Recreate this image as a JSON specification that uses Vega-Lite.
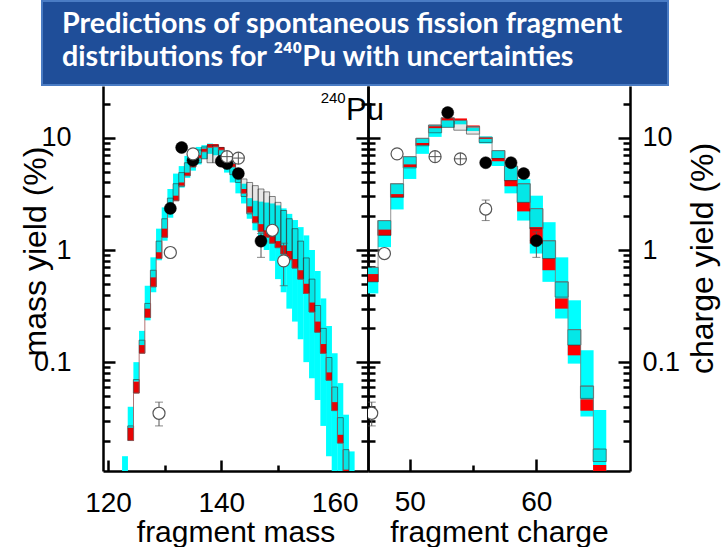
{
  "$schema": "https://vega.github.io/schema/vega-lite/v6.json",
  "background": "white",
  "padding": {"left": 19, "top": 0, "right": 5, "bottom": 0},
  "spacing": 0,
  "config": {
    "view": {"stroke": null},
    "font": "Liberation Sans",
    "axis": {"grid": false, "domainColor": "black", "domainWidth": 2.5, "tickColor": "black", "tickWidth": 2.5,
             "labelColor": "black", "titleColor": "black", "labelFont": "Liberation Sans", "titleFont": "Liberation Sans",
             "titleFontWeight": "normal", "labelFontSize": 27, "titleFontSize": 30, "labelFlush": false, "labelOverlap": false}
  },
  "datasets": {
    "left": [
      {"m":123,"clo":0.005,"chi":0.0145,"hlo":null,"hhi":null,"rlo":null,"rhi":null},
      {"m":124,"clo":0.0255,"chi":0.040,"hlo":0.020,"hhi":0.027,"rlo":0.020,"rhi":0.026},
      {"m":125,"clo":0.067,"chi":0.10,"hlo":0.053,"hhi":0.070,"rlo":0.053,"rhi":0.067},
      {"m":126,"clo":0.142,"chi":0.19,"hlo":0.12,"hhi":0.157,"rlo":0.12,"rhi":0.142},
      {"m":127,"clo":0.236,"chi":0.48,"hlo":0.25,"hhi":0.334,"rlo":0.25,"rhi":0.30},
      {"m":128,"clo":0.42,"chi":0.86,"hlo":0.47,"hhi":0.66,"rlo":0.47,"rhi":0.57},
      {"m":129,"clo":0.81,"chi":1.55,"hlo":0.84,"hhi":1.2,"rlo":0.84,"rhi":0.955},
      {"m":130,"clo":1.21,"chi":2.4,"hlo":1.3,"hhi":1.9,"rlo":1.3,"rhi":1.55},
      {"m":131,"clo":1.94,"chi":3.5,"hlo":2.15,"hhi":2.9,"rlo":2.15,"rhi":2.49},
      {"m":132,"clo":2.75,"chi":4.8,"hlo":2.75,"hhi":3.9,"rlo":2.75,"rhi":3.05},
      {"m":133,"clo":3.6,"chi":5.6,"hlo":3.7,"hhi":4.9,"rlo":3.74,"rhi":4.0},
      {"m":134,"clo":4.4,"chi":6.9,"hlo":4.6,"hhi":6.0,"rlo":4.6,"rhi":4.9},
      {"m":135,"clo":5.1,"chi":8.0,"hlo":5.5,"hhi":7.0,"rlo":5.5,"rhi":5.9},
      {"m":136,"clo":5.8,"chi":8.3,"hlo":6.0,"hhi":7.8,"rlo":6.6,"rhi":7.0},
      {"m":137,"clo":6.5,"chi":8.6,"hlo":6.5,"hhi":8.3,"rlo":7.5,"rhi":8.0},
      {"m":138,"clo":7.2,"chi":8.9,"hlo":6.0,"hhi":8.6,"rlo":8.2,"rhi":8.8},
      {"m":139,"clo":7.0,"chi":8.8,"hlo":6.0,"hhi":8.6,"rlo":8.3,"rhi":8.8},
      {"m":140,"clo":6.0,"chi":8.2,"hlo":5.8,"hhi":8.2,"rlo":7.8,"rhi":8.3},
      {"m":141,"clo":4.9,"chi":7.2,"hlo":5.3,"hhi":7.3,"rlo":6.8,"rhi":7.2},
      {"m":142,"clo":4.0,"chi":6.0,"hlo":4.7,"hhi":6.2,"rlo":5.5,"rhi":5.9},
      {"m":143,"clo":3.2,"chi":5.0,"hlo":4.0,"hhi":5.3,"rlo":4.4,"rhi":4.8},
      {"m":144,"clo":2.6,"chi":3.9,"hlo":3.0,"hhi":4.3,"rlo":3.2,"rhi":3.5},
      {"m":145,"clo":1.9,"chi":2.9,"hlo":2.1,"hhi":4.0,"rlo":2.15,"rhi":2.45},
      {"m":146,"clo":1.5,"chi":2.75,"hlo":1.75,"hhi":3.75,"rlo":1.75,"rhi":2.0},
      {"m":147,"clo":1.2,"chi":2.7,"hlo":1.45,"hhi":3.5,"rlo":1.45,"rhi":1.7},
      {"m":148,"clo":1.0,"chi":2.65,"hlo":1.3,"hhi":3.3,"rlo":1.3,"rhi":1.5},
      {"m":149,"clo":0.8,"chi":2.6,"hlo":1.15,"hhi":3.0,"rlo":1.15,"rhi":1.35},
      {"m":150,"clo":0.55,"chi":2.5,"hlo":1.05,"hhi":2.66,"rlo":1.05,"rhi":1.2},
      {"m":151,"clo":0.42,"chi":2.35,"hlo":0.92,"hhi":2.25,"rlo":0.92,"rhi":1.1},
      {"m":152,"clo":0.30,"chi":2.1,"hlo":0.82,"hhi":1.9,"rlo":0.82,"rhi":0.98},
      {"m":153,"clo":0.23,"chi":1.85,"hlo":0.69,"hhi":1.55,"rlo":0.69,"rhi":0.83},
      {"m":154,"clo":0.16,"chi":1.6,"hlo":0.55,"hhi":1.2,"rlo":0.55,"rhi":0.66},
      {"m":155,"clo":0.10,"chi":1.35,"hlo":0.41,"hhi":0.85,"rlo":0.41,"rhi":0.50},
      {"m":156,"clo":0.072,"chi":1.0,"hlo":0.28,"hhi":0.55,"rlo":0.28,"rhi":0.34},
      {"m":157,"clo":0.046,"chi":0.65,"hlo":0.185,"hhi":0.32,"rlo":0.185,"rhi":0.23},
      {"m":158,"clo":0.027,"chi":0.37,"hlo":0.12,"hhi":0.2,"rlo":0.12,"rhi":0.145},
      {"m":159,"clo":0.0145,"chi":0.21,"hlo":0.069,"hhi":0.11,"rlo":0.069,"rhi":0.081},
      {"m":160,"clo":0.007,"chi":0.12,"hlo":0.037,"hhi":0.06,"rlo":0.037,"rhi":0.044},
      {"m":161,"clo":0.005,"chi":0.065,"hlo":0.019,"hhi":0.032,"rlo":0.019,"rhi":0.0225},
      {"m":162,"clo":0.004,"chi":0.034,"hlo":0.008,"hhi":0.0166,"rlo":0.008,"rhi":0.011},
      {"m":163,"clo":0.003,"chi":0.016,"hlo":null,"hhi":null,"rlo":null,"rhi":null}
    ],
    "lpts": [
      {"m":131,"y":2.35,"kind":"filled"},
      {"m":133,"y":8.2,"kind":"filled"},
      {"m":135,"y":6.3,"kind":"filled"},
      {"m":140,"y":6.2,"kind":"filled"},
      {"m":141,"y":5.9,"kind":"filled"},
      {"m":143,"y":4.8,"kind":"filled"},
      {"m":147,"y":1.2,"kind":"filled"},
      {"m":129,"y":0.035,"kind":"open"},
      {"m":131,"y":0.95,"kind":"open"},
      {"m":135,"y":7.2,"kind":"open"},
      {"m":149,"y":1.5,"kind":"open"},
      {"m":151,"y":0.80,"kind":"open"},
      {"m":141,"y":6.8,"kind":"cross"},
      {"m":143,"y":6.6,"kind":"cross"}
    ],
    "lerr": [
      {"m":129,"lo":0.027,"hi":0.044},
      {"m":131,"lo":0.87,"hi":1.04},
      {"m":147,"lo":0.86,"hi":1.4},
      {"m":151,"lo":0.48,"hi":1.15}
    ],
    "right": [
      {"z":47,"clo":0.41,"chi":0.70,"hlo":0.52,"hhi":0.70,"rlo":0.52,"rhi":0.61},
      {"z":48,"clo":1.06,"chi":1.83,"hlo":1.35,"hhi":1.83,"rlo":1.35,"rhi":1.52},
      {"z":49,"clo":2.3,"chi":3.9,"hlo":2.95,"hhi":3.9,"rlo":2.95,"rhi":3.15},
      {"z":50,"clo":4.3,"chi":6.8,"hlo":5.4,"hhi":6.8,"rlo":5.5,"rhi":5.8},
      {"z":51,"clo":7.2,"chi":9.9,"hlo":8.5,"hhi":9.9,"rlo":8.6,"rhi":9.0},
      {"z":52,"clo":10.2,"chi":13.0,"hlo":11.1,"hhi":13.0,"rlo":12.2,"rhi":12.7},
      {"z":53,"clo":12.4,"chi":14.6,"hlo":12.4,"hhi":15.1,"rlo":14.3,"rhi":15.1},
      {"z":54,"clo":13.2,"chi":14.3,"hlo":11.7,"hhi":14.3,"rlo":14.3,"rhi":14.9},
      {"z":55,"clo":11.5,"chi":12.4,"hlo":10.8,"hhi":12.6,"rlo":12.4,"rhi":12.9},
      {"z":56,"clo":8.9,"chi":10.3,"hlo":9.1,"hhi":10.1,"rlo":9.8,"rhi":10.1},
      {"z":57,"clo":5.6,"chi":7.7,"hlo":6.5,"hhi":7.7,"rlo":6.2,"rhi":6.6},
      {"z":58,"clo":3.2,"chi":5.6,"hlo":4.15,"hhi":5.6,"rlo":3.7,"rhi":4.2},
      {"z":59,"clo":1.83,"chi":4.3,"hlo":2.66,"hhi":3.9,"rlo":2.21,"rhi":2.66},
      {"z":60,"clo":0.93,"chi":3.05,"hlo":1.55,"hhi":2.34,"rlo":1.14,"rhi":1.6},
      {"z":61,"clo":0.52,"chi":1.77,"hlo":0.84,"hhi":1.21,"rlo":0.66,"rhi":0.84},
      {"z":62,"clo":0.245,"chi":0.86,"hlo":0.38,"hhi":0.52,"rlo":0.30,"rhi":0.37},
      {"z":63,"clo":0.097,"chi":0.356,"hlo":0.142,"hhi":0.195,"rlo":0.115,"rhi":0.142},
      {"z":64,"clo":0.0327,"chi":0.128,"hlo":0.0475,"hhi":0.0612,"rlo":0.0369,"rhi":0.0466},
      {"z":65,"clo":0.008,"chi":0.0374,"hlo":0.013,"hhi":0.0168,"rlo":0.008,"rhi":0.0121}
    ],
    "rpts": [
      {"z":53,"y":16.8,"kind":"filled"},
      {"z":56,"y":6.0,"kind":"filled"},
      {"z":58,"y":6.0,"kind":"filled"},
      {"z":59,"y":4.8,"kind":"filled"},
      {"z":60,"y":1.21,"kind":"filled"},
      {"z":47,"y":0.035,"kind":"open"},
      {"z":48,"y":0.93,"kind":"open"},
      {"z":49,"y":7.2,"kind":"open"},
      {"z":56,"y":2.32,"kind":"open"},
      {"z":52,"y":6.8,"kind":"cross"},
      {"z":54,"y":6.5,"kind":"cross"}
    ],
    "rerr": [
      {"z":47,"lo":0.027,"hi":0.044},
      {"z":56,"lo":1.83,"hi":2.79},
      {"z":60,"lo":0.86,"hi":1.45}
    ]
  },
  "vconcat": [
    {
      "width": 626,
      "height": 84,
      "view": {"fill": "#1F4E99", "stroke": "#4A7CC4", "strokeWidth": 2},
      "data": {"values": [
        {"line": 1, "text": "Predictions of spontaneous fission fragment"},
        {"line": 2, "text": "distributions for ²⁴⁰Pu with  uncertainties"}
      ]},
      "mark": {"type": "text", "align": "left", "baseline": "alphabetic", "color": "white", "font": "Lato", "fontWeight": "bold", "fontSize": 28.7, "dx": -293},
      "encoding": {
        "y": {"field": "line", "type": "ordinal", "scale": {"range": [32, 65], "padding": 0}, "axis": null},
        "text": {"field": "text", "type": "nominal"}
      }
    },
    {
      "hconcat": [
        {
          "width": 61,
          "height": 385,
          "data": {"values": []},
          "mark": "point"
        },
        {
          "width": 265,
          "height": 385,
          "resolve": {"axis": {"y": "independent"}},
          "layer": [
            {
              "data": {"name": "left"},
              "mark": {"type": "bar", "width": 5.9, "color": "#00FFFF", "clip": true},
              "encoding": {
                "x": {"field": "m", "type": "quantitative", "scale": {"domain": [120, 165], "nice": false, "zero": false},
                      "axis": {"values": [120, 130, 140, 150, 160], "labelExpr": "datum.value % 20 == 0 ? datum.label : ''",
                               "tickSize": {"condition": {"test": "datum.value % 20 == 0", "value": -11}, "value": -6},
                               "labelFlush": false, "labelPadding": 29, "labelFontSize": 28, "title": "fragment mass", "titleY": 70, "titleBaseline": "alphabetic"}},
                "y": {"field": "clo", "type": "quantitative", "scale": {"type": "log", "domain": [0.0107, 29], "nice": false},
                      "axis": {"orient": "left", "values": [0.02,0.03,0.04,0.05,0.06,0.07,0.08,0.09,0.1,0.2,0.3,0.4,0.5,0.6,0.7,0.8,0.9,1,2,3,4,5,6,7,8,9,10,20],
                               "labelExpr": "datum.value == 0.1 ? '0.1' : datum.value == 1 ? '1' : datum.value == 10 ? '10' : ''",
                               "tickSize": {"condition": {"test": "datum.value == 0.1 || datum.value == 1 || datum.value == 10", "value": -12}, "value": -7},
                               "labelFlush": false, "labelPadding": 44, "title": "mass yield (%)", "titleFontSize": 32, "titleY": 165, "titleX": -68,
                               "titleBaseline": "middle", "titleAngle": 270}},
                "y2": {"field": "chi"}
              }
            },
            {
              "data": {"name": "left"},
              "mark": {"type": "bar", "width": 5.9, "color": "#FF0000", "clip": true},
              "encoding": {
                "x": {"field": "m", "type": "quantitative"},
                "y": {"field": "rlo", "type": "quantitative",
                      "axis": {"orient": "right", "values": [0.02,0.03,0.04,0.05,0.06,0.07,0.08,0.09,0.1,0.2,0.3,0.4,0.5,0.6,0.7,0.8,0.9,1,2,3,4,5,6,7,8,9,10,20],
                               "labels": false, "title": null,
                               "tickSize": {"condition": {"test": "datum.value == 0.1 || datum.value == 1 || datum.value == 10", "value": -12}, "value": -7}}},
                "y2": {"field": "rhi"}
              }
            },
            {
              "data": {"name": "left"},
              "mark": {"type": "bar", "width": 5.9, "fill": "#222222", "fillOpacity": 0.11, "stroke": "#333333", "strokeWidth": 0.6, "clip": true},
              "encoding": {
                "x": {"field": "m", "type": "quantitative"},
                "y": {"field": "hlo", "type": "quantitative", "axis": null},
                "y2": {"field": "hhi"}
              }
            },
            {
              "data": {"name": "left"},
              "mark": {"type": "line", "interpolate": "step", "color": "#A05050", "strokeWidth": 0.8, "clip": true},
              "encoding": {
                "x": {"field": "m", "type": "quantitative"},
                "y": {"field": "rlo", "type": "quantitative", "axis": null}
              }
            },
            {
              "data": {"name": "lerr"},
              "mark": {"type": "rule", "color": "#555555", "strokeWidth": 1},
              "encoding": {
                "x": {"field": "m", "type": "quantitative"},
                "y": {"field": "lo", "type": "quantitative", "axis": null},
                "y2": {"field": "hi"}
              }
            },
            {
              "data": {"name": "lerr"},
              "mark": {"type": "tick", "orient": "horizontal", "size": 8, "thickness": 1, "color": "#555555"},
              "encoding": {
                "x": {"field": "m", "type": "quantitative"},
                "y": {"field": "lo", "type": "quantitative", "axis": null}
              }
            },
            {
              "data": {"name": "lerr"},
              "mark": {"type": "tick", "orient": "horizontal", "size": 8, "thickness": 1, "color": "#555555"},
              "encoding": {
                "x": {"field": "m", "type": "quantitative"},
                "y": {"field": "hi", "type": "quantitative", "axis": null}
              }
            },
            {
              "data": {"name": "lpts"},
              "transform": [{"filter": "datum.kind == 'filled'"}],
              "mark": {"type": "point", "shape": "circle", "filled": true, "fill": "black", "stroke": "black", "strokeWidth": 0.5, "size": 145, "opacity": 1},
              "encoding": {
                "x": {"field": "m", "type": "quantitative"},
                "y": {"field": "y", "type": "quantitative", "axis": null}
              }
            },
            {
              "data": {"name": "lpts"},
              "transform": [{"filter": "datum.kind != 'filled'"}],
              "mark": {"type": "point", "shape": "circle", "filled": true, "fill": "white", "stroke": "#555555", "strokeWidth": 1.2, "size": 145, "opacity": 1},
              "encoding": {
                "x": {"field": "m", "type": "quantitative"},
                "y": {"field": "y", "type": "quantitative", "axis": null}
              }
            },
            {
              "data": {"name": "lpts"},
              "transform": [{"filter": "datum.kind == 'cross'"}],
              "mark": {"type": "point", "shape": "M-1,0L1,0M0,-1L0,1", "filled": false, "stroke": "#555555", "strokeWidth": 1, "size": 145, "opacity": 1},
              "encoding": {
                "x": {"field": "m", "type": "quantitative"},
                "y": {"field": "y", "type": "quantitative", "axis": null}
              }
            },
            {
              "data": {"values": [{}]},
              "mark": {"type": "text", "text": "240", "fontSize": 15, "align": "right", "baseline": "alphabetic", "font": "Liberation Sans", "color": "black"},
              "encoding": {
                "x": {"datum": 161.95, "type": "quantitative"},
                "y": {"datum": 20.5, "type": "quantitative", "axis": null}
              }
            },
            {
              "data": {"values": [{}]},
              "mark": {"type": "text", "text": "Pu", "fontSize": 31, "align": "left", "baseline": "alphabetic", "font": "Liberation Sans", "color": "black"},
              "encoding": {
                "x": {"datum": 162.0, "type": "quantitative"},
                "y": {"datum": 14.5, "type": "quantitative", "axis": null}
              }
            }
          ]
        },
        {
          "width": 262,
          "height": 385,
          "resolve": {"axis": {"y": "independent"}},
          "layer": [
            {
              "data": {"name": "right"},
              "mark": {"type": "bar", "width": 13.17, "color": "#00FFFF", "clip": true},
              "encoding": {
                "x": {"field": "z", "type": "quantitative", "scale": {"domain": [47.1, 67], "nice": false, "zero": false},
                      "axis": {"values": [50, 55, 60, 65], "labelExpr": "datum.value % 10 == 0 ? datum.label : ''",
                               "tickSize": {"condition": {"test": "datum.value % 10 == 0", "value": -12}, "value": -6},
                               "labelFlush": false, "labelPadding": 29, "labelFontSize": 28, "title": "fragment charge", "titleY": 70, "titleBaseline": "alphabetic"}},
                "y": {"field": "clo", "type": "quantitative", "scale": {"type": "log", "domain": [0.0107, 29], "nice": false},
                      "axis": {"orient": "left", "values": [0.02,0.03,0.04,0.05,0.06,0.07,0.08,0.09,0.1,0.2,0.3,0.4,0.5,0.6,0.7,0.8,0.9,1,2,3,4,5,6,7,8,9,10,20],
                               "labels": false, "title": null,
                               "tickSize": {"condition": {"test": "datum.value == 0.1 || datum.value == 1 || datum.value == 10", "value": -12}, "value": -7}}},
                "y2": {"field": "chi"}
              }
            },
            {
              "data": {"name": "right"},
              "mark": {"type": "bar", "width": 13.17, "color": "#FF0000", "clip": true},
              "encoding": {
                "x": {"field": "z", "type": "quantitative"},
                "y": {"field": "rlo", "type": "quantitative",
                      "axis": {"orient": "right", "values": [0.02,0.03,0.04,0.05,0.06,0.07,0.08,0.09,0.1,0.2,0.3,0.4,0.5,0.6,0.7,0.8,0.9,1,2,3,4,5,6,7,8,9,10,20],
                               "labelExpr": "datum.value == 0.1 ? '0.1' : datum.value == 1 ? '1' : datum.value == 10 ? '10' : ''",
                               "tickSize": {"condition": {"test": "datum.value == 0.1 || datum.value == 1 || datum.value == 10", "value": -12}, "value": -7},
                               "labelFlush": false, "labelPadding": 24, "title": "charge yield (%)", "titleFontSize": 32, "titleY": 172, "titleX": 72,
                               "titleBaseline": "middle", "titleAngle": 270}},
                "y2": {"field": "rhi"}
              }
            },
            {
              "data": {"name": "right"},
              "mark": {"type": "bar", "width": 13.17, "fill": "#222222", "fillOpacity": 0.11, "stroke": "#333333", "strokeWidth": 0.6, "clip": true},
              "encoding": {
                "x": {"field": "z", "type": "quantitative"},
                "y": {"field": "hlo", "type": "quantitative", "axis": null},
                "y2": {"field": "hhi"}
              }
            },
            {
              "data": {"name": "right"},
              "mark": {"type": "line", "interpolate": "step", "color": "#777777", "strokeWidth": 0.8, "clip": true},
              "encoding": {
                "x": {"field": "z", "type": "quantitative"},
                "y": {"field": "hhi", "type": "quantitative", "axis": null}
              }
            },
            {
              "data": {"name": "rerr"},
              "mark": {"type": "rule", "color": "#555555", "strokeWidth": 1, "clip": true},
              "encoding": {
                "x": {"field": "z", "type": "quantitative"},
                "y": {"field": "lo", "type": "quantitative", "axis": null},
                "y2": {"field": "hi"}
              }
            },
            {
              "data": {"name": "rerr"},
              "mark": {"type": "tick", "orient": "horizontal", "size": 8, "thickness": 1, "color": "#555555", "clip": true},
              "encoding": {
                "x": {"field": "z", "type": "quantitative"},
                "y": {"field": "lo", "type": "quantitative", "axis": null}
              }
            },
            {
              "data": {"name": "rerr"},
              "mark": {"type": "tick", "orient": "horizontal", "size": 8, "thickness": 1, "color": "#555555", "clip": true},
              "encoding": {
                "x": {"field": "z", "type": "quantitative"},
                "y": {"field": "hi", "type": "quantitative", "axis": null}
              }
            },
            {
              "data": {"name": "rpts"},
              "transform": [{"filter": "datum.kind == 'filled'"}],
              "mark": {"type": "point", "shape": "circle", "filled": true, "fill": "black", "stroke": "black", "strokeWidth": 0.5, "size": 145, "opacity": 1, "clip": true},
              "encoding": {
                "x": {"field": "z", "type": "quantitative"},
                "y": {"field": "y", "type": "quantitative", "axis": null}
              }
            },
            {
              "data": {"name": "rpts"},
              "transform": [{"filter": "datum.kind != 'filled'"}],
              "mark": {"type": "point", "shape": "circle", "filled": true, "fill": "white", "stroke": "#555555", "strokeWidth": 1.2, "size": 145, "opacity": 1, "clip": true},
              "encoding": {
                "x": {"field": "z", "type": "quantitative"},
                "y": {"field": "y", "type": "quantitative", "axis": null}
              }
            },
            {
              "data": {"name": "rpts"},
              "transform": [{"filter": "datum.kind == 'cross'"}],
              "mark": {"type": "point", "shape": "M-1,0L1,0M0,-1L0,1", "filled": false, "stroke": "#555555", "strokeWidth": 1, "size": 145, "opacity": 1, "clip": true},
              "encoding": {
                "x": {"field": "z", "type": "quantitative"},
                "y": {"field": "y", "type": "quantitative", "axis": null}
              }
            }
          ]
        }
      ],
      "spacing": 0,
      "bounds": "flush"
    }
  ]
}
